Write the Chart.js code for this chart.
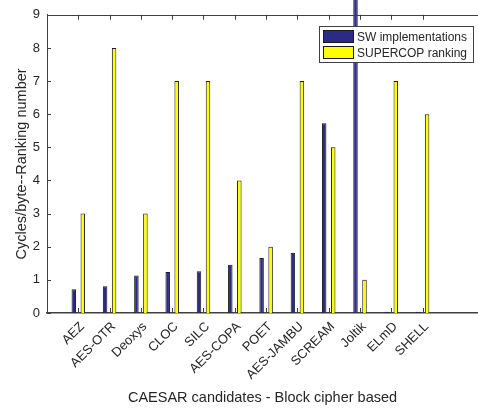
<!DOCTYPE html>
<html>
<head>
<meta charset="utf-8">
<script src="https://cdn.jsdelivr.net/npm/chart.js@4/dist/chart.umd.min.js"></script>
<style>
html,body{margin:0;padding:0;background:#fff;}
#wrap{width:478px;height:410px;position:relative;}
</style>
</head>
<body>
<div id="wrap"><canvas id="c" width="478" height="410"></canvas></div>
<script>
const categories = ['AEZ','AES-OTR','Deoxys','CLOC','SILC','AES-COPA','POET','AES-JAMBU','SCREAM','Joltik','ELmD','SHELL'];
const swImplementations = [0.72, 0.81, 1.13, 1.24, 1.26, 1.46, 1.66, 1.82, 5.73, 12, 0.04, 0.04];
const supercopRanking = [3, 8, 3, 7, 7, 4, 2, 7, 5, 1, 7, 6];
const seriesNames = ['SW implementations', 'SUPERCOP ranking'];
const yTicks = [0,1,2,3,4,5,6,7,8,9];

const FONT = '"Liberation Sans", Arial, Helvetica, sans-serif';
const TXT = '#262626';
const AX = '#404040';

const inwardTicks = {
  id: 'inwardTicks',
  afterDatasetsDraw(chart) {
    const ctx = chart.ctx, a = chart.chartArea;
    const xs = chart.scales.x, ys = chart.scales.y;
    ctx.save();
    ctx.strokeStyle = AX;
    ctx.lineWidth = 1;
    ctx.beginPath();
    ctx.moveTo(a.left, Math.round(a.top) + 0.5);
    ctx.lineTo(a.right, Math.round(a.top) + 0.5);
    ctx.stroke();
    ctx.beginPath();
    xs.ticks.forEach((t, i) => {
      const px = Math.round(xs.getPixelForTick(i)) + 0.5;
      ctx.moveTo(px, a.bottom); ctx.lineTo(px, a.bottom - 5);
      ctx.moveTo(px, a.top); ctx.lineTo(px, a.top + 5);
    });
    ys.ticks.forEach((t, i) => {
      const py = Math.round(ys.getPixelForTick(i)) + 0.5;
      ctx.moveTo(a.left, py); ctx.lineTo(a.left + 4, py);
    });
    ctx.stroke();
    ctx.restore();
  }
};

const boxLegend = {
  id: 'boxLegend',
  afterDraw(chart) {
    const ctx = chart.ctx;
    const x0 = 319.5, y0 = 26.5, w = 154, h = 36;
    ctx.save();
    ctx.fillStyle = '#fff';
    ctx.fillRect(x0, y0, w, h);
    ctx.strokeStyle = AX;
    ctx.lineWidth = 1;
    ctx.strokeRect(x0, y0, w, h);
    ctx.font = '12px ' + FONT;
    ctx.textBaseline = 'middle';
    chart.data.datasets.forEach((ds, i) => {
      const py = 30.5 + i * 16;
      ctx.fillStyle = ds.backgroundColor;
      ctx.fillRect(323.5, py, 30, 12);
      ctx.strokeStyle = '#1a1a1a';
      ctx.strokeRect(323.5, py, 30, 12);
      ctx.fillStyle = TXT;
      ctx.fillText(ds.label, 357, py + 7);
    });
    ctx.restore();
  }
};

const toPts = arr => arr.map((v, i) => ({x: i + 1, y: v}));

new Chart(document.getElementById('c'), {
  type: 'bar',
  data: {
    datasets: [
      {label: seriesNames[0], data: toPts(swImplementations), backgroundColor: '#2c2a87', borderColor: '#1a1a1a', borderWidth: 1, clip: false},
      {label: seriesNames[1], data: toPts(supercopRanking), backgroundColor: '#ffff00', borderColor: '#1a1a1a', borderWidth: 1, clip: false}
    ]
  },
  options: {
    responsive: false,
    animation: false,
    events: [],
    layout: {padding: {top: 13, right: 0, left: 0, bottom: 0}},
    categoryPercentage: 0.575,
    barPercentage: 0.5,
    plugins: {legend: {display: false}, tooltip: {enabled: false}},
    scales: {
      x: {
        type: 'linear',
        offset: false,
        min: 0,
        max: 13.77,
        afterBuildTicks: s => { s.ticks = categories.map((c, i) => ({value: i + 1})); },
        afterFit: s => { s.height = 97; },
        grid: {display: false, drawTicks: false, offset: false},
        border: {display: true, color: AX, width: 1.5},
        ticks: {
          autoSkip: false,
          minRotation: 45,
          maxRotation: 45,
          padding: 6,
          labelOffset: 4,
          color: TXT,
          font: {family: FONT, size: 13},
          callback: v => categories[v - 1] || ''
        },
        title: {display: true, text: 'CAESAR candidates - Block cipher based', color: TXT, font: {family: FONT, size: 14.5}, padding: {top: 0, bottom: 3}}
      },
      y: {
        min: 0,
        max: 9,
        afterBuildTicks: s => { s.ticks = yTicks.map(v => ({value: v})); },
        afterFit: s => { s.width = 47; },
        grid: {display: false, drawTicks: false},
        border: {display: true, color: AX, width: 1},
        ticks: {padding: 7, color: TXT, font: {family: FONT, size: 13}},
        title: {display: true, text: 'Cycles/byte--Ranking number', color: TXT, font: {family: FONT, size: 14.5}, padding: {top: 13, bottom: 0}}
      }
    }
  },
  plugins: [inwardTicks, boxLegend]
});
</script>
</body>
</html>
